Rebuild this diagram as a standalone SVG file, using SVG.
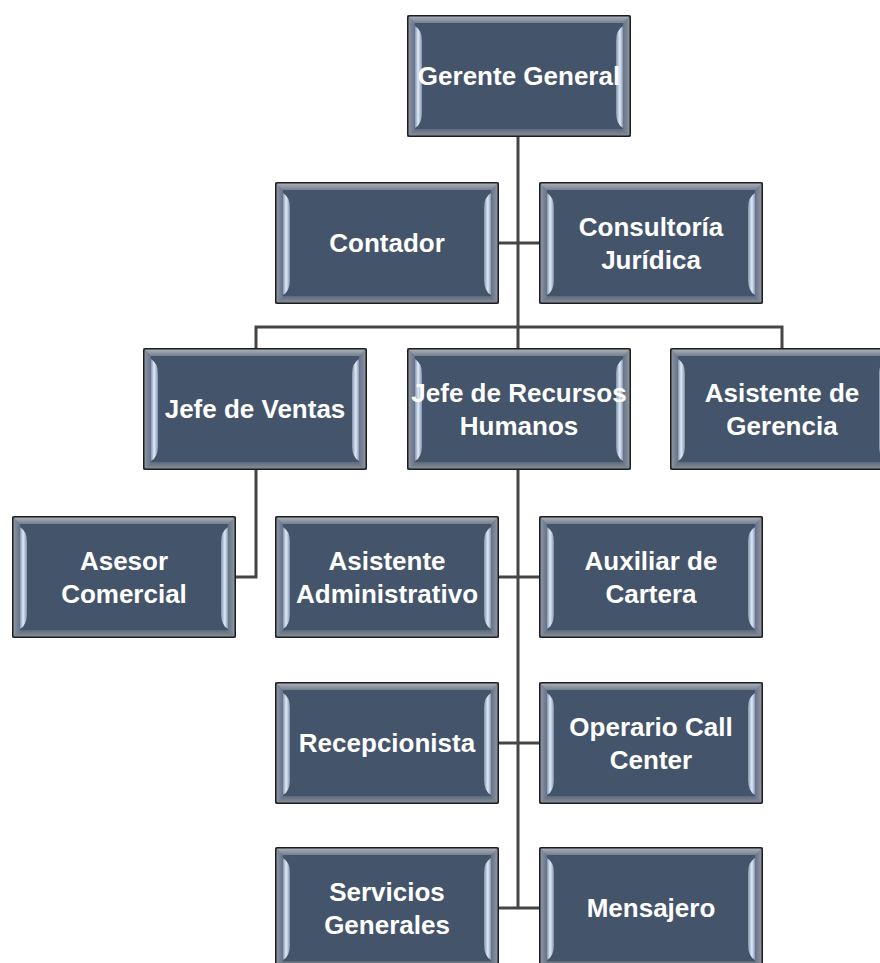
<svg xmlns="http://www.w3.org/2000/svg" xmlns:xlink="http://www.w3.org/1999/xlink" width="880" height="963" viewBox="0 0 880 963">
  <style>
    .conn { stroke: #454545; stroke-width: 3; fill: none; }
    .lbl { font-family: "Liberation Sans", Arial, sans-serif; font-weight: bold; font-size: 26px; fill: #ffffff; text-anchor: middle; }
  </style>
  <defs>
    <linearGradient id="topBevel" x1="0" y1="0" x2="0" y2="1">
      <stop offset="0" stop-color="#b5bac1"/>
      <stop offset="1" stop-color="#75808f"/>
    </linearGradient>
    <linearGradient id="botBevel" x1="0" y1="0" x2="0" y2="1">
      <stop offset="0" stop-color="#5d6a7c"/>
      <stop offset="1" stop-color="#8f959e"/>
    </linearGradient>
    <linearGradient id="leftBevel" x1="0" y1="0" x2="1" y2="0">
      <stop offset="0" stop-color="#959ca5"/>
      <stop offset="1" stop-color="#65728a"/>
    </linearGradient>
    <linearGradient id="rightBevel" x1="0" y1="0" x2="1" y2="0">
      <stop offset="0" stop-color="#65728a"/>
      <stop offset="1" stop-color="#959ca5"/>
    </linearGradient>
    <linearGradient id="hlL" x1="0" y1="0" x2="1" y2="0">
      <stop offset="0" stop-color="#8497b4"/>
      <stop offset="0.45" stop-color="#e2eaf6"/>
      <stop offset="1" stop-color="#7f93b1"/>
    </linearGradient>
    <linearGradient id="hlR" x1="0" y1="0" x2="1" y2="0">
      <stop offset="0" stop-color="#7f93b1"/>
      <stop offset="0.55" stop-color="#e2eaf6"/>
      <stop offset="1" stop-color="#8497b4"/>
    </linearGradient>
    <g id="box">
      <rect x="0" y="0" width="224" height="122" fill="#8a919b"/>
      <polygon points="0,0 224,0 216,8 8,8" fill="url(#topBevel)"/>
      <polygon points="0,122 224,122 216,114 8,114" fill="url(#botBevel)"/>
      <polygon points="0,0 8,8 8,114 0,122" fill="url(#leftBevel)"/>
      <polygon points="224,0 216,8 216,114 224,122" fill="url(#rightBevel)"/>
      <rect x="8" y="8" width="208" height="106" fill="#44546a"/>
      <path d="M8,11 Q15,15 15,26 L15,98 Q15,109 8,113 Z" fill="url(#hlL)"/>
      <path d="M216,11 Q209,15 209,26 L209,98 Q209,109 216,113 Z" fill="url(#hlR)"/>
      <rect x="0.75" y="0.75" width="222.5" height="120.5" rx="2" fill="none" stroke="#1c1c1c" stroke-width="1.5"/>
    </g>
  </defs>

  <rect x="0" y="0" width="880" height="963" fill="#ffffff"/>

  <g id="connectors">
    <line class="conn" x1="518" y1="136" x2="518" y2="909"/>
    <line class="conn" x1="498" y1="243" x2="540" y2="243"/>
    <polyline class="conn" points="256,349 256,327 782,327 782,349"/>
    <polyline class="conn" points="256,469 256,577 235,577"/>
    <line class="conn" x1="498" y1="577" x2="540" y2="577"/>
    <line class="conn" x1="498" y1="743" x2="540" y2="743"/>
    <line class="conn" x1="498" y1="908" x2="540" y2="908"/>
  </g>

  <g id="gerente-general" transform="translate(407,15)">
    <use xlink:href="#box"/>
    <text class="lbl" x="112" y="70">Gerente General</text>
  </g>
  <g id="contador" transform="translate(275,182)">
    <use xlink:href="#box"/>
    <text class="lbl" x="112" y="70">Contador</text>
  </g>
  <g id="consultoria-juridica" transform="translate(539,182)">
    <use xlink:href="#box"/>
    <text class="lbl" x="112" y="54">Consultoría</text>
    <text class="lbl" x="112" y="87">Jurídica</text>
  </g>
  <g id="jefe-ventas" transform="translate(143,348)">
    <use xlink:href="#box"/>
    <text class="lbl" x="112" y="70">Jefe de Ventas</text>
  </g>
  <g id="jefe-recursos-humanos" transform="translate(407,348)">
    <use xlink:href="#box"/>
    <text class="lbl" x="112" y="54">Jefe de Recursos</text>
    <text class="lbl" x="112" y="87">Humanos</text>
  </g>
  <g id="asistente-gerencia" transform="translate(670,348)">
    <use xlink:href="#box"/>
    <text class="lbl" x="112" y="54">Asistente de</text>
    <text class="lbl" x="112" y="87">Gerencia</text>
  </g>
  <g id="asesor-comercial" transform="translate(12,516)">
    <use xlink:href="#box"/>
    <text class="lbl" x="112" y="54">Asesor</text>
    <text class="lbl" x="112" y="87">Comercial</text>
  </g>
  <g id="asistente-administrativo" transform="translate(275,516)">
    <use xlink:href="#box"/>
    <text class="lbl" x="112" y="54">Asistente</text>
    <text class="lbl" x="112" y="87">Administrativo</text>
  </g>
  <g id="auxiliar-cartera" transform="translate(539,516)">
    <use xlink:href="#box"/>
    <text class="lbl" x="112" y="54">Auxiliar de</text>
    <text class="lbl" x="112" y="87">Cartera</text>
  </g>
  <g id="recepcionista" transform="translate(275,682)">
    <use xlink:href="#box"/>
    <text class="lbl" x="112" y="70">Recepcionista</text>
  </g>
  <g id="operario-call-center" transform="translate(539,682)">
    <use xlink:href="#box"/>
    <text class="lbl" x="112" y="54">Operario Call</text>
    <text class="lbl" x="112" y="87">Center</text>
  </g>
  <g id="servicios-generales" transform="translate(275,847)">
    <use xlink:href="#box"/>
    <text class="lbl" x="112" y="54">Servicios</text>
    <text class="lbl" x="112" y="87">Generales</text>
  </g>
  <g id="mensajero" transform="translate(539,847)">
    <use xlink:href="#box"/>
    <text class="lbl" x="112" y="70">Mensajero</text>
  </g>
</svg>
